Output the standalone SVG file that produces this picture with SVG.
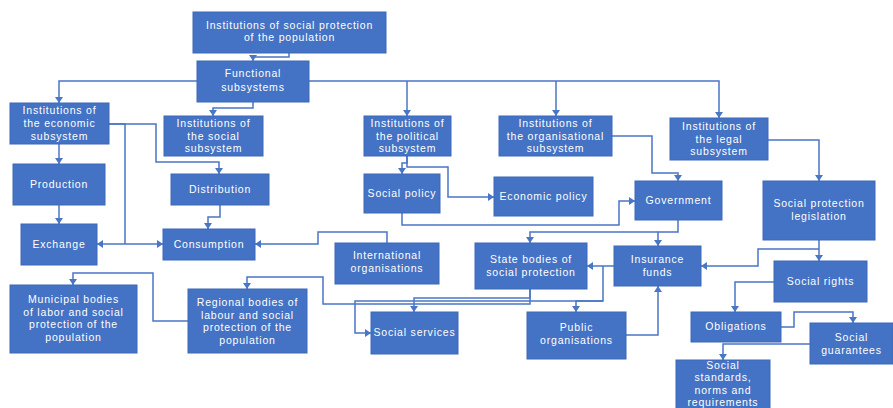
<svg xmlns="http://www.w3.org/2000/svg" width="893" height="408" viewBox="0 0 893 408">
<style>
.n rect{fill:#4472C4;stroke:#3d69b8;stroke-width:1}
.n text{fill:#ffffff;font-family:"Liberation Sans","Open Sans",sans-serif;font-size:10.5px;letter-spacing:0.8px;text-anchor:middle}
#edges path{fill:none;stroke:#4a76c6;stroke-width:1.5}
#edges path.a{marker-end:url(#ah)}
</style>
<defs>
<marker id="ah" viewBox="0 0 6 8" refX="6" refY="4" markerWidth="6" markerHeight="8" markerUnits="userSpaceOnUse" orient="auto"><path d="M0,0 L6,4 L0,8 z" fill="#4a76c6"/></marker>
</defs>
<rect width="893" height="408" fill="#ffffff"/>
<g id="edges">
<path class="a" d="M289,53 V57 H253 V61"/>
<path class="a" d="M197,81 H59 V103"/>
<path class="a" d="M309,81 H719 V118"/>
<path class="a" d="M407,81 V116"/>
<path class="a" d="M556,81 V116"/>
<path class="a" d="M253,102 V108 H213 V116"/>
<path class="a" d="M59,144 V164"/>
<path class="a" d="M59,205 V224"/>
<path class="a" d="M109,124 H156 V162 H219 V174"/>
<path d="M109,124 H125 V244"/>
<path class="a" d="M125,244 H97"/>
<path class="a" d="M125,244 H163"/>
<path class="a" d="M220,205 V217 H208 V229"/>
<path class="a" d="M407,156 V163 H402 V174"/>
<path class="a" d="M407,156 V167 H448 V197 H494"/>
<path class="a" d="M402,213 V225 H619 V201 H635"/>
<path class="a" d="M387,243 V232 H318 V244 H255"/>
<path class="a" d="M612,136 H652 V173 H678 V181"/>
<path class="a" d="M768,140 H819 V181"/>
<path class="a" d="M678,220 V232 H658 V246"/>
<path class="a" d="M658,232 H530 V243"/>
<path class="a" d="M819,240 V261"/>
<path class="a" d="M819,249 H758 V266 H701"/>
<path class="a" d="M614,266 H587"/>
<path class="a" d="M603,266 V301 H576 V312"/>
<path class="a" d="M603,301 H355 V333 H371"/>
<path class="a" d="M530,289 V298 H414 V312"/>
<path class="a" d="M530,289 V304 H323 V277 H247 V289"/>
<path class="a" d="M188,321 H153 V273 H73 V285"/>
<path class="a" d="M626,335 H658 V286"/>
<path class="a" d="M774,282 H735 V312"/>
<path class="a" d="M781,327 H794 V312 H853 V323"/>
<path class="a" d="M810,344 H723 V360"/>
</g>
<g id="n-top" class="n"><rect x="193" y="12" width="193" height="41"/><text x="289.5" y="28.5">Institutions of social protection</text><text x="289.5" y="41">of the population</text></g>
<g id="n-functional" class="n"><rect x="197" y="61" width="112" height="41"/><text x="253" y="77">Functional</text><text x="253" y="91">subsystems</text></g>
<g id="n-economic" class="n"><rect x="10" y="103" width="99" height="41"/><text x="59.5" y="114">Institutions of</text><text x="59.5" y="127">the economic</text><text x="59.5" y="140">subsystem</text></g>
<g id="n-social" class="n"><rect x="164" y="116" width="99" height="40"/><text x="213.5" y="127">Institutions of</text><text x="213.5" y="139.5">the social</text><text x="213.5" y="152">subsystem</text></g>
<g id="n-political" class="n"><rect x="364" y="116" width="87" height="40"/><text x="407.5" y="127">Institutions of</text><text x="407.5" y="139.5">the political</text><text x="407.5" y="152">subsystem</text></g>
<g id="n-organisational" class="n"><rect x="499" y="116" width="113" height="40"/><text x="555.5" y="127">Institutions of</text><text x="555.5" y="139.5">the organisational</text><text x="555.5" y="152">subsystem</text></g>
<g id="n-legal" class="n"><rect x="670" y="118" width="98" height="42"/><text x="719" y="130">Institutions of</text><text x="719" y="142.5">the legal</text><text x="719" y="155">subsystem</text></g>
<g id="n-production" class="n"><rect x="13" y="164" width="92" height="41"/><text x="59" y="188">Production</text></g>
<g id="n-exchange" class="n"><rect x="21" y="224" width="76" height="41"/><text x="59" y="248">Exchange</text></g>
<g id="n-distribution" class="n"><rect x="171" y="174" width="98" height="31"/><text x="220" y="193">Distribution</text></g>
<g id="n-consumption" class="n"><rect x="163" y="229" width="92" height="31"/><text x="209" y="248">Consumption</text></g>
<g id="n-socialpolicy" class="n"><rect x="364" y="174" width="76" height="39"/><text x="402" y="197">Social policy</text></g>
<g id="n-economicpolicy" class="n"><rect x="494" y="177" width="99" height="39"/><text x="543.5" y="200">Economic policy</text></g>
<g id="n-government" class="n"><rect x="635" y="181" width="87" height="39"/><text x="678.5" y="204">Government</text></g>
<g id="n-legislation" class="n"><rect x="763" y="181" width="112" height="59"/><text x="819" y="207">Social protection</text><text x="819" y="219.5">legislation</text></g>
<g id="n-international" class="n"><rect x="335" y="243" width="104" height="41"/><text x="387" y="259">International</text><text x="387" y="271.5">organisations</text></g>
<g id="n-statebodies" class="n"><rect x="475" y="243" width="112" height="46"/><text x="531" y="263">State bodies of</text><text x="531" y="275.5">social protection</text></g>
<g id="n-insurance" class="n"><rect x="614" y="246" width="87" height="40"/><text x="657.5" y="263">Insurance</text><text x="657.5" y="275.5">funds</text></g>
<g id="n-socialrights" class="n"><rect x="774" y="261" width="93" height="41"/><text x="820.5" y="285">Social rights</text></g>
<g id="n-municipal" class="n"><rect x="10" y="285" width="127" height="68"/><text x="73.5" y="303">Municipal bodies</text><text x="73.5" y="315.5">of labor and social</text><text x="73.5" y="328">protection of the</text><text x="73.5" y="340.5">population</text></g>
<g id="n-regional" class="n"><rect x="188" y="289" width="119" height="64"/><text x="247.5" y="306">Regional bodies of</text><text x="247.5" y="318.5">labour and social</text><text x="247.5" y="331">protection of the</text><text x="247.5" y="343.5">population</text></g>
<g id="n-socialservices" class="n"><rect x="371" y="312" width="87" height="42"/><text x="414.5" y="336">Social services</text></g>
<g id="n-public" class="n"><rect x="527" y="312" width="99" height="47"/><text x="576.5" y="331">Public</text><text x="576.5" y="344">organisations</text></g>
<g id="n-obligations" class="n"><rect x="691" y="312" width="90" height="30"/><text x="736" y="330">Obligations</text></g>
<g id="n-guarantees" class="n"><rect x="810" y="323" width="83" height="41"/><text x="851.5" y="341">Social</text><text x="851.5" y="353.5">guarantees</text></g>
<g id="n-standards" class="n"><rect x="676" y="360" width="94" height="60"/><text x="723" y="368.5">Social</text><text x="723" y="381">standards,</text><text x="723" y="393.5">norms and</text><text x="723" y="406">requirements</text></g>
</svg>
